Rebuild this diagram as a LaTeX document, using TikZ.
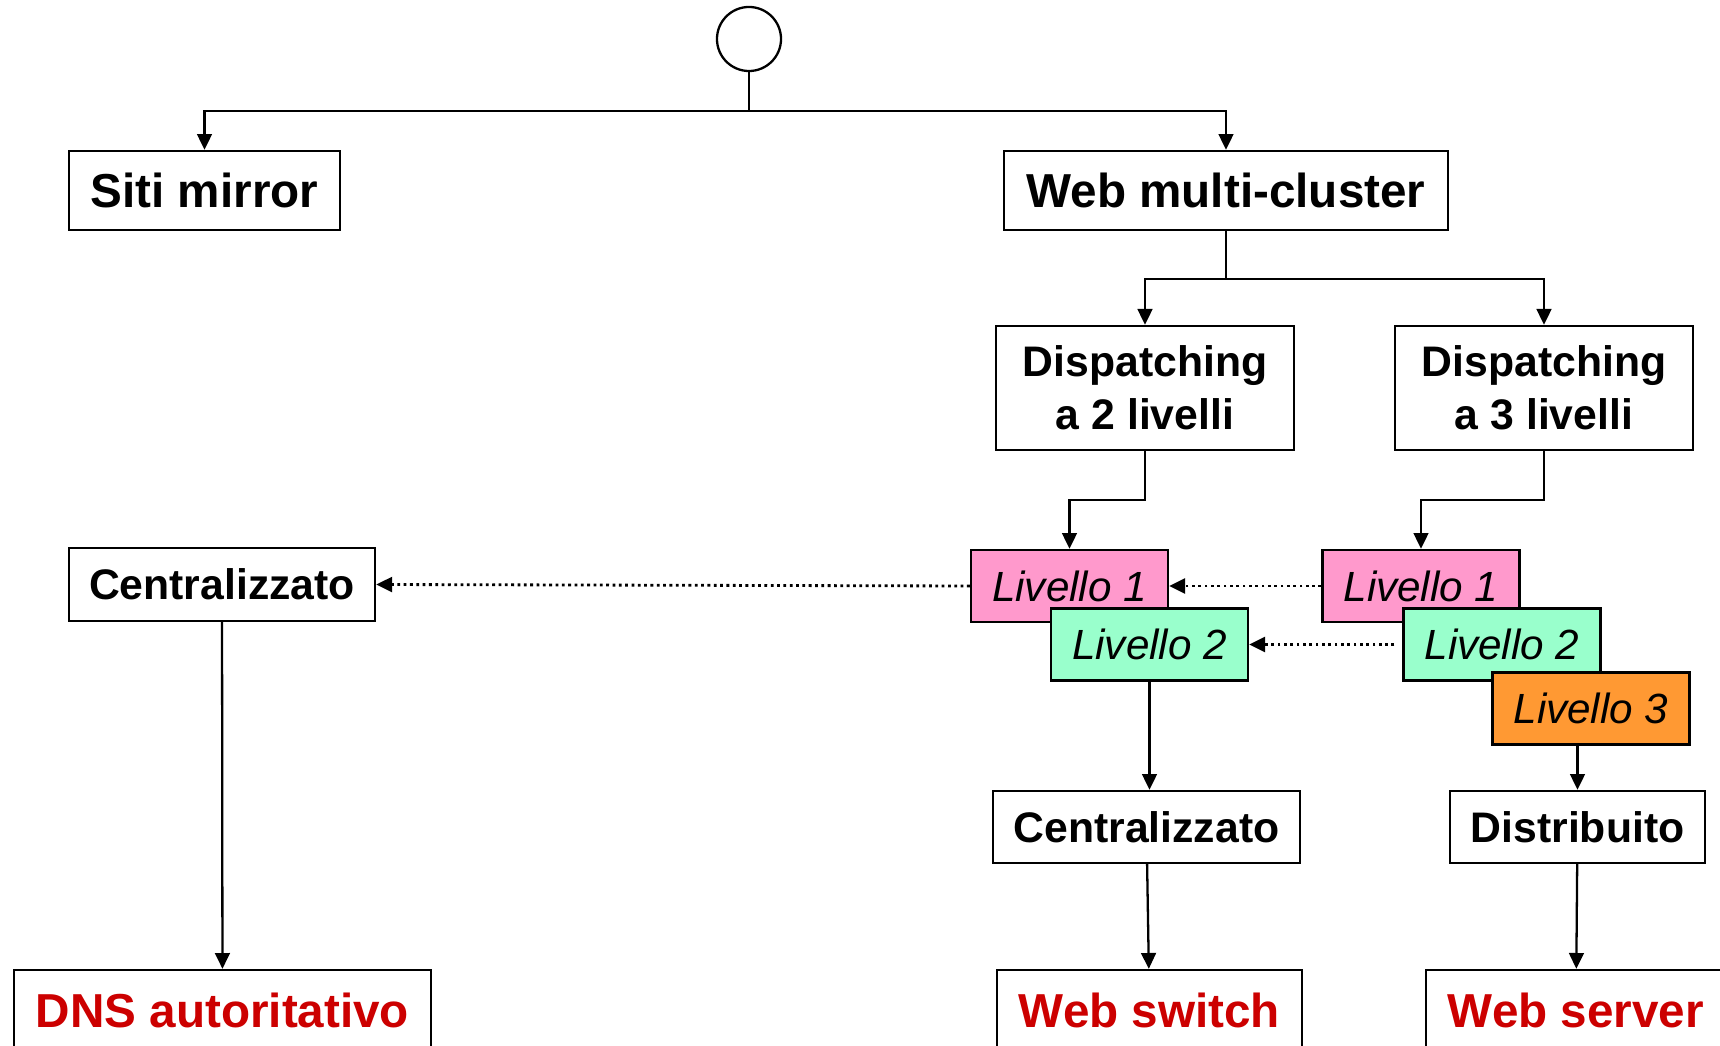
\documentclass[tikz,border=0pt]{standalone}
\usepackage{fontspec}
\setmainfont{Liberation Sans}
\usetikzlibrary{arrows.meta}

\definecolor{livpink}{RGB}{255,153,204}
\definecolor{livgreen}{RGB}{153,255,204}
\definecolor{livorange}{RGB}{255,153,51}
\definecolor{leafred}{RGB}{204,0,0}

\begin{document}
\begin{tikzpicture}[x=0.01cm,y=-0.01cm,line width=0.65pt,
    >={Triangle[length=4.5pt,width=4.2pt]},
    box/.style={draw,fill=white,inner sep=0pt,align=center,
        font=\bfseries\fontsize{12.15}{15.1}\selectfont},
    bigbox/.style={box,font=\bfseries\fontsize{13.55}{16}\selectfont},
    leaf/.style={bigbox,text=leafred},
    livello/.style={draw,inner sep=0pt,minimum width=1.97cm,minimum height=0.72cm,
        font=\itshape\fontsize{12}{14}\selectfont}]

    % page area (bottom boxes are cut by the border)
    \useasboundingbox (0,0) rectangle (1720,1046);
    \clip (0,0) rectangle (1720,1046);

    % root and first split
    \node[circle,draw,minimum size=0.64cm,inner sep=0pt] (root) at (749,39) {};
    \node[bigbox,minimum width=2.71cm,minimum height=0.79cm] (mirror) at (204.5,190.5) {Siti mirror};
    \node[bigbox,minimum width=4.44cm,minimum height=0.79cm] (multi) at (1226,190.5) {Web multi-cluster};

    % dispatching
    \node[box,minimum width=2.98cm,minimum height=1.24cm] (disp2) at (1145,388) {Dispatching\\a 2 livelli};
    \node[box,minimum width=2.98cm,minimum height=1.24cm] (disp3) at (1544,388) {Dispatching\\a 3 livelli};

    % levels
    \node[livello,fill=livpink] (liv1a) at (1069.5,586) {Livello 1};
    \node[livello,fill=livgreen] (liv2a) at (1149.5,644.5) {Livello 2};
    \node[livello,fill=livpink] (liv1b) at (1421,586) {Livello 1};
    \node[livello,fill=livgreen] (liv2b) at (1502,644.5) {Livello 2};
    \node[livello,fill=livorange] (liv3b) at (1591,708.5) {Livello 3};

    % how it is done
    \node[box,minimum width=3.06cm,minimum height=0.73cm] (centrdns) at (222,584.5) {Centralizzato};
    \node[box,minimum width=3.07cm,minimum height=0.72cm] (centrsw) at (1146.5,827) {Centralizzato};
    \node[box,minimum width=2.55cm,minimum height=0.72cm] (distr) at (1577.5,827) {Distribuito};

    % who does it
    \node[leaf,minimum width=4.17cm,minimum height=0.80cm] (dns) at (222.5,1010) {DNS autoritativo};
    \node[leaf,minimum width=3.05cm,minimum height=0.80cm] (wswitch) at (1149.5,1010) {Web switch};
    \node[leaf,minimum width=3.00cm,minimum height=0.80cm] (wserver) at (1576,1010) {Web server};

    % tree connectors
    \coordinate (split) at (749,111);
    \coordinate (msplit) at (1226,279);
    \draw (root) -- (split);
    \draw[->] (split) -| (mirror);
    \draw[->] (split) -| (multi);
    \draw (multi) -- (msplit);
    \draw[->] (msplit) -| (disp2);
    \draw[->] (msplit) -| (disp3);
    \draw[->] (disp2.south) -- ++(0,49) -| (liv1a);
    \draw[->] (disp3.south) -- ++(0,49) -| (liv1b);

    % equivalences
    \draw[->,densely dotted,line width=0.8pt] (liv1b.west) -- (liv1a.east);
    \draw[->,densely dotted,line width=0.8pt,shorten <=0.08cm] (liv2b.west) -- (liv2a.east);
    \draw[->,densely dotted,line width=0.8pt] (liv1a.west) -- (centrdns.east);

    % down to the components
    \draw[->] (centrdns) -- (dns);
    \draw[->] (liv2a.south) -- (liv2a.south |- centrsw.north);
    \draw[->] (centrsw) -- (wswitch);
    \draw[->] (distr.north |- liv3b.south) -- (distr.north);
    \draw[->] (distr) -- (wserver);
\end{tikzpicture}
\end{document}
